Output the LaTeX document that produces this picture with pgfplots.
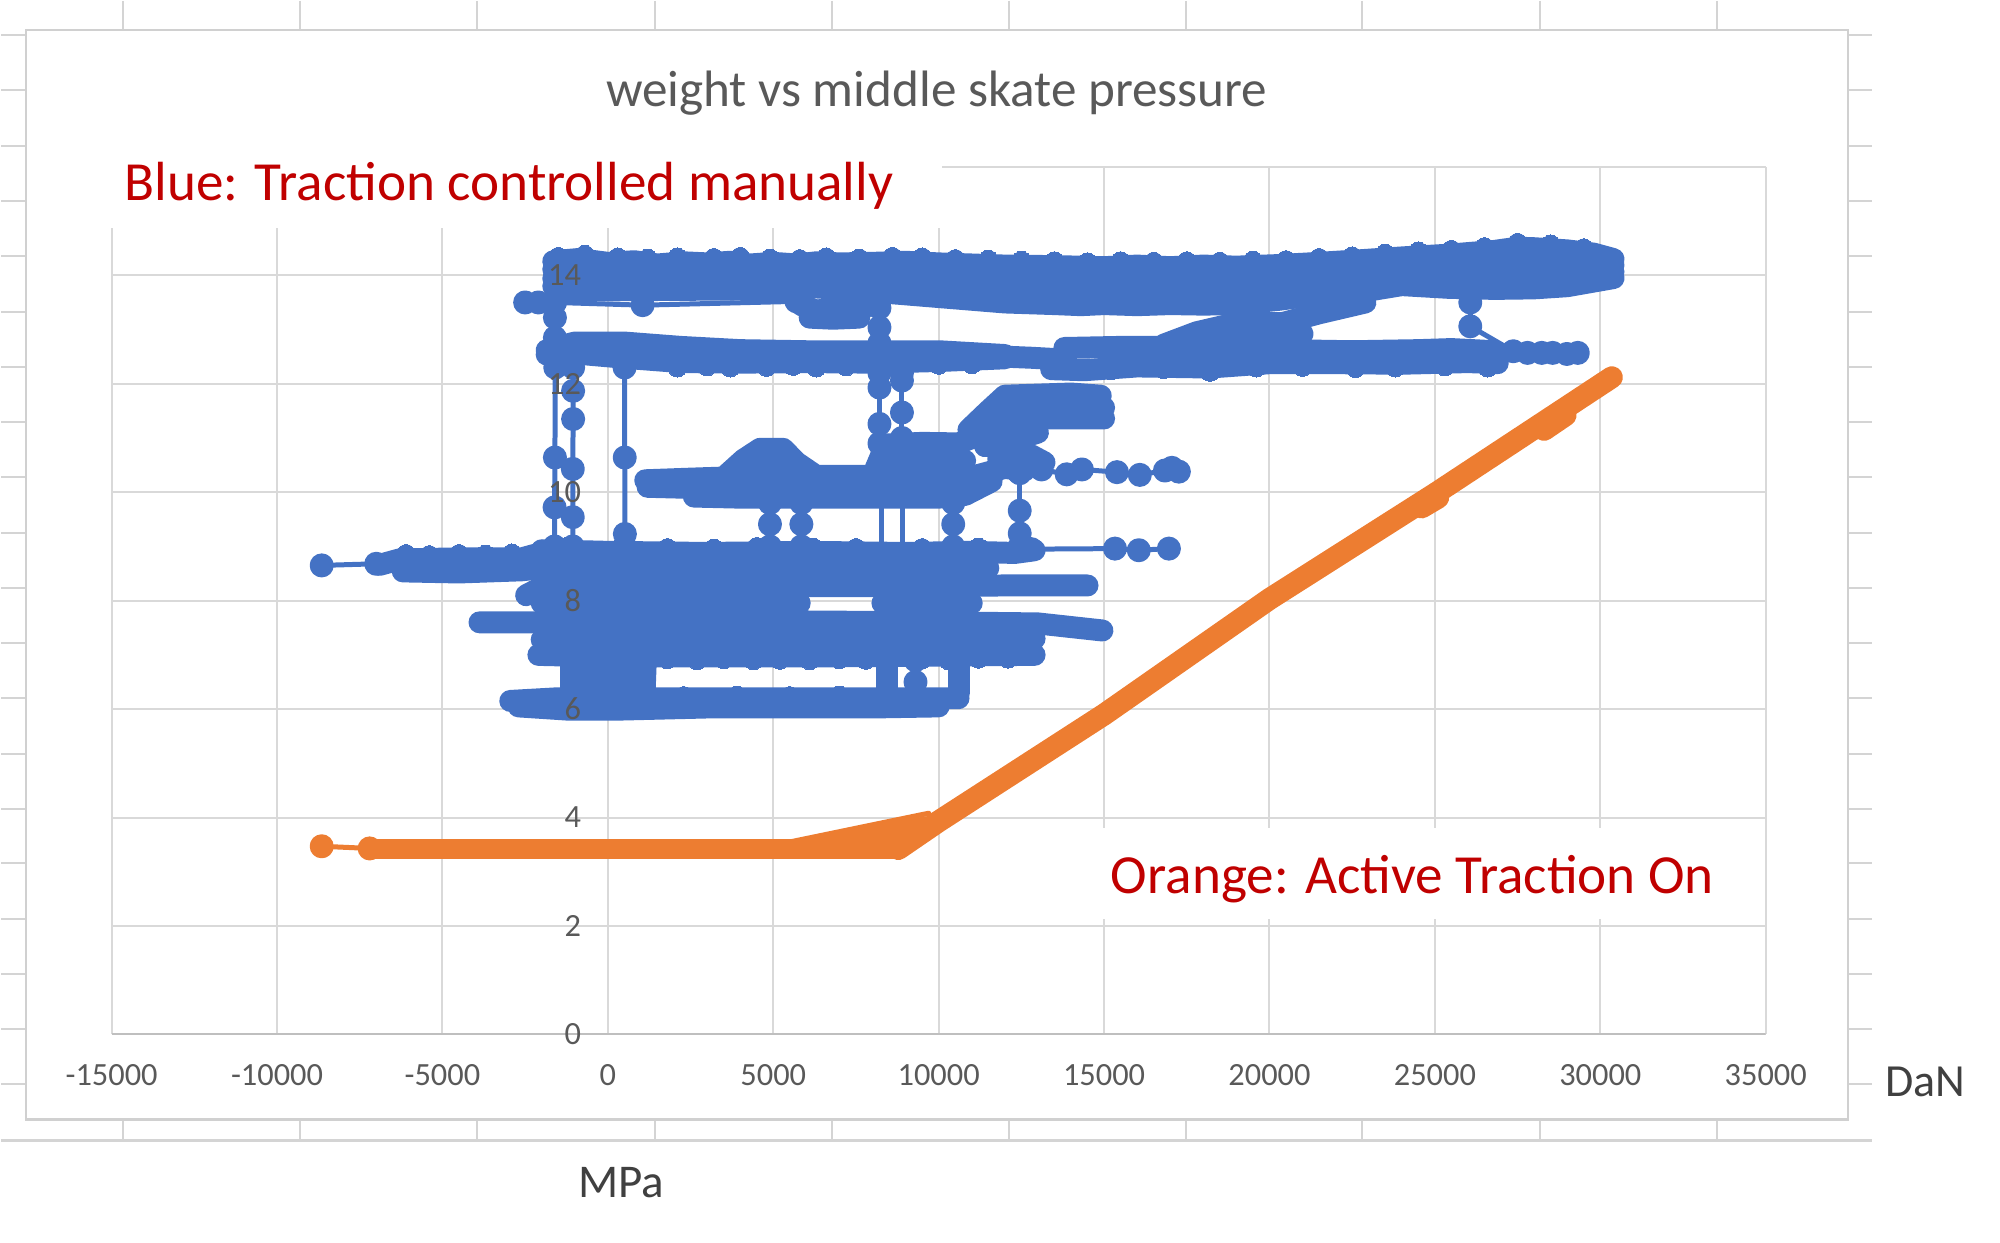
\documentclass[border=0pt]{standalone}
\usepackage{pgfplots}
\pgfplotsset{compat=1.18}
\usepackage{fontspec}
\setmainfont{Carlito}
\definecolor{xlblue}{HTML}{4472C4}
\definecolor{xlorange}{HTML}{ED7D31}
\definecolor{xlred}{HTML}{C00000}
\definecolor{xlgrid}{HTML}{D9D9D9}
\definecolor{xlaxis}{HTML}{BFBFBF}
\definecolor{xltext}{HTML}{595959}
\definecolor{xldark}{HTML}{404040}
\definecolor{sheet}{HTML}{D4D4D4}
\definecolor{chartborder}{HTML}{D0D0D0}
\pgfplotsset{
  layers/labelsontop/.define layer set={axis background,axis grid,axis ticks,axis lines,pre main,main,axis tick labels,axis descriptions,axis foreground}{/pgfplots/layers/standard},
  bandb/.style={draw=xlblue, line width=11bp, line cap=round, line join=round, mark=none},
  thinb/.style={draw=xlblue, line width=2.5bp, line cap=round, line join=round, mark=*, mark size=4.75bp, mark options={fill=xlblue, draw=none}},
  thinbn/.style={draw=xlblue, line width=2.5bp, line cap=round, mark=none},
  dotsb/.style={color=xlblue, only marks, mark=*, mark size=4.75bp, mark options={fill=xlblue, draw=xlblue, line width=0pt}},
  bando/.style={draw=xlorange, line width=9.8bp, line cap=round, line join=round, mark=none},
  bandoo/.style={draw=xlorange, line width=11bp, line cap=round, line join=round, mark=none},
  thino/.style={draw=xlorange, line width=2.5bp, line cap=round, line join=round, mark=*, mark size=4.75bp, mark options={fill=xlorange, draw=none}},
  thinon/.style={draw=xlorange, line width=2.5bp, line cap=round, mark=none},
}
\begin{document}
\begin{tikzpicture}[x=0.5bp,y=-0.5bp]
\path (0,0) rectangle (2000,1242);
% spreadsheet background
\foreach \yy in {34,89,145,200,255,311,366,421,476,532,587,642,697,753,808,863,919,974,1029,1084}{
  \draw[sheet, line width=1bp] (0,\yy) -- (25,\yy);
  \draw[sheet, line width=1bp] (1848,\yy) -- (1872,\yy);
}
\foreach \xx in {122,299,476,654,831,1008,1185,1362,1540,1717}{
  \draw[sheet, line width=1bp] (\xx,0) -- (\xx,29);
  \draw[sheet, line width=1bp] (\xx,1119) -- (\xx,1140);
}
\draw[sheet, line width=1.2bp] (0,1140) -- (1872,1140);
\draw[chartborder, line width=1.3bp] (25,29) rectangle (1848,1119);

\begin{axis}[
  at={(55.25bp,-517bp)}, anchor=south west,
  scale only axis, width=827.5bp, height=434bp,
  xmin=-15000, xmax=35000, ymin=0, ymax=16,
  xtick={-15000,-10000,-5000,0,5000,10000,15000,20000,25000,30000,35000},
  xticklabels={-15000,-10000,-5000,0,5000,10000,15000,20000,25000,30000,35000},
  ytick={0,2,4,6,8,10,12,14},
  yticklabels={0,2,4,6,8,10,12,14},
  extra y ticks={16}, extra y tick labels={},
  scaled ticks=false,
  grid=major, major grid style={xlgrid, line width=1bp},
  axis line style={draw=none}, major tick length=0pt,
  tick label style={font=\fontsize{16.2bp}{19bp}\selectfont, text=xltext},
  xticklabel style={anchor=center, yshift=-20.5bp},
  yticklabel style={anchor=east, inner sep=0pt, xshift=235bp},
  set layers=labelsontop,
  clip=true,
]
\draw[xlaxis, line width=1.5bp] (axis cs:-15000,0) -- (axis cs:35000,0);

% ---------------- ORANGE: Active traction on ----------------
\addplot[thino] coordinates {(-8650,3.47) (-7200,3.43)};
\addplot[bando] coordinates {(-7200,3.42) (-3000,3.42) (2000,3.42) (6000,3.42) (8780,3.42)};
\addplot[bando] coordinates {(6600,3.5) (9300,3.82)};
\addplot[thinon] coordinates {(5500,3.55) (9300,4.03) (9700,4.08)};
\addplot[thinon] coordinates {(6000,3.56) (9600,3.98)};
\addplot[bandoo] coordinates {(8780,3.42) (10000,3.93) (15000,5.9) (20000,8.03) (25000,9.97) (30350,12.12)};
\addplot[bandoo] coordinates {(24600,9.72) (25100,9.9)};
\addplot[bandoo] coordinates {(28300,11.15) (28950,11.42)};

% ---------------- BLUE: traction controlled manually ----------------
% top band (about 14)
\addplot[bandb] coordinates {(-1650,14.26) (-900,14.3) (0,14.23) (800,14.26) (1500,14.2) (2300,14.24) (3000,14.22) (3700,14.25) (4300,14.2) (5000,14.23) (5700,14.2) (6300,14.24) (7000,14.22) (8000,14.23) (9000,14.25) (10000,14.22) (11000,14.2) (12000,14.18) (13500,14.17) (15000,14.15) (16000,14.18) (17000,14.15) (18000,14.18) (19000,14.16) (20300,14.19) (21500,14.23) (22800,14.28) (24000,14.33) (25400,14.38) (26800,14.45) (27500,14.51) (28000,14.5) (29000,14.46) (29800,14.4) (30400,14.3)};
\addplot[dotsb] coordinates {(-1500,14.34) (-700,14.38) (300,14.33) (1200,14.31) (2100,14.33) (3200,14.32) (4000,14.34) (4900,14.31) (5800,14.3) (6600,14.33) (7600,14.31) (8600,14.34) (9500,14.33) (10500,14.3) (11500,14.29) (12500,14.27) (13500,14.26) (14500,14.24) (15500,14.26) (16500,14.25) (17500,14.26) (18500,14.25) (19500,14.27) (20500,14.28) (21500,14.32) (22500,14.35) (23500,14.4) (24500,14.44) (25500,14.47) (26500,14.52) (27500,14.6) (28500,14.57) (29500,14.5)};
\addplot[bandb] coordinates {(-1650,14.11) (0,14.09) (1500,14.08) (3000,14.09) (4300,14.08) (5700,14.08) (7000,14.07) (8000,14.06) (9000,14.05) (10000,14.02) (11000,13.99) (12000,13.96) (13500,13.94) (15000,13.93) (17000,13.93) (19000,13.94) (20300,13.98) (21500,14.04) (22800,14.09) (24000,14.16) (25400,14.19) (26800,14.22) (28000,14.26) (29000,14.25) (30400,14.19)};
\addplot[bandb] coordinates {(-1650,13.94) (0,13.93) (1500,13.94) (3000,13.93) (4300,13.93) (5700,13.93) (7000,13.9) (8000,13.87) (9000,13.84) (10000,13.8) (11000,13.76) (12000,13.72) (13500,13.69) (15000,13.69) (17000,13.69) (19000,13.69) (20300,13.75) (21500,13.83) (22800,13.88) (24000,13.98) (25400,13.97) (26800,13.97) (28000,14.0) (29000,14.01) (30400,14.06)};
\addplot[bandb] coordinates {(-1650,13.8) (-800,13.78) (0,13.8) (1000,13.82) (1500,13.81) (2200,13.79) (3000,13.8) (4300,13.79) (5000,13.81) (5700,13.8) (7000,13.75) (8000,13.7) (9000,13.65) (10000,13.6) (11000,13.55) (12000,13.5) (13500,13.47) (14300,13.45) (15000,13.47) (16000,13.45) (17000,13.47) (18000,13.46) (19000,13.47) (20300,13.55) (21500,13.65) (22800,13.7) (24000,13.82) (25400,13.77) (26800,13.75) (28000,13.76) (29000,13.8) (30400,13.95)};
\addplot[bandb] coordinates {(5850,13.45) (6300,13.35) (7000,13.4) (7800,13.42)};
\addplot[bandb] coordinates {(6100,13.22) (6800,13.2) (7600,13.22)};
\addplot[thinb] coordinates {(-2500,13.5) (-2100,13.5) (-1600,13.5) (1050,13.45) (5700,13.52)};
\addplot[thinbn] coordinates {(-1700,13.56) (5800,13.59)};
\addplot[thinb] coordinates {(-1600,13.5) (-1600,13.22) (-1600,12.85)};
\addplot[thinb] coordinates {(8210,13.4) (8210,13.04) (8210,12.75)};
% second band (about 12.5)
\addplot[bandb] coordinates {(-1850,12.62) (-1000,12.76) (500,12.76) (2200,12.68) (4000,12.62) (6000,12.6) (8000,12.6) (10000,12.6) (12000,12.53)};
\addplot[bandb] coordinates {(-1850,12.54) (-1000,12.56) (500,12.48) (2200,12.4) (4000,12.39) (6000,12.4) (8000,12.39) (10000,12.42) (12000,12.47)};
\addplot[dotsb] coordinates {(2100,12.3) (3000,12.32) (3700,12.3) (4800,12.31) (5600,12.33) (6300,12.3) (7200,12.32) (9000,12.33) (10000,12.35) (11000,12.36)};
\addplot[bandb] coordinates {(12000,12.5) (12800,12.48) (13700,12.45)};
\addplot[bandb] coordinates {(13800,12.66) (15500,12.68) (17000,12.68) (18500,12.7) (20500,12.62) (22500,12.6) (24500,12.62) (25500,12.64) (26800,12.6)};
\addplot[bandb] coordinates {(13400,12.27) (14400,12.25) (16000,12.32) (18200,12.3) (20000,12.38) (22000,12.38) (24000,12.37) (26000,12.4) (26900,12.38)};
\addplot[dotsb] coordinates {(15200,12.25) (16800,12.27) (18200,12.22) (19600,12.3) (21000,12.31) (22600,12.29) (23800,12.3) (25300,12.32) (26600,12.3)};
\addplot[bandb] coordinates {(16800,12.72) (17800,12.95) (19000,13.12) (20400,13.12) (21500,13.3) (22900,13.5)};
\addplot[bandb] coordinates {(18500,12.88) (20500,12.88) (21000,12.92)};
\addplot[thinb] coordinates {(26070,13.5) (26070,13.06) (27370,12.6) (27800,12.57) (28230,12.57) (28560,12.57) (28990,12.55) (29320,12.57)};
% connectors down from the 12.5 band
\addplot[thinb] coordinates {(-1590,12.3) (-1600,10.64) (-1610,9.72) (-1610,9.0)};
\addplot[thinb] coordinates {(-1050,12.3) (-1050,11.87) (-1050,11.35) (-1060,10.43) (-1060,9.54) (-1060,9.0)};
\addplot[thinb] coordinates {(505,12.3) (510,10.64) (515,9.23) (515,9.0)};
\addplot[thinb] coordinates {(8210,12.2) (8210,11.93) (8210,11.26) (8210,10.9)};
\addplot[thinb] coordinates {(8890,12.2) (8890,12.06) (8890,11.47) (8890,11.0)};
% blob about 11.5
\addplot[bandb] coordinates {(10900,11.15) (11500,11.5) (12000,11.78) (13000,11.8) (14000,11.82) (14900,11.78)};
\addplot[bandb] coordinates {(11200,11.0) (12000,11.55) (13500,11.58) (15000,11.56)};
\addplot[bandb] coordinates {(11800,11.2) (13200,11.36) (15000,11.36)};
\addplot[bandb] coordinates {(11400,10.85) (12200,10.95) (13000,11.1)};
\addplot[bandb] coordinates {(11800,10.62) (12800,10.68) (13200,10.55)};
% band about 10.2
\addplot[bandb] coordinates {(1130,10.22) (2500,10.25) (3500,10.27) (4100,10.6) (4600,10.8) (5300,10.8) (5700,10.55) (6300,10.3) (8000,10.3) (8400,10.88) (9500,10.91) (10600,10.9) (11000,11.0)};
\addplot[bandb] coordinates {(4000,10.4) (5600,10.45)};
\addplot[bandb] coordinates {(4300,10.62) (5400,10.62)};
\addplot[bandb] coordinates {(1200,10.1) (2500,10.08) (4000,10.1) (6000,10.1) (8000,10.1) (8600,10.55) (10800,10.58)};
\addplot[bandb] coordinates {(2600,9.92) (4000,9.9) (6000,9.9) (8000,9.9) (10000,9.9) (10800,9.95) (11600,10.2)};
\addplot[bandb] coordinates {(8400,10.26) (10800,10.25) (12000,10.45) (12600,10.4)};
\addplot[thinb] coordinates {(12400,10.38) (13110,10.42) (13870,10.33) (14330,10.42) (15390,10.37) (16080,10.32) (16840,10.4) (17050,10.45) (17260,10.38)};
% connectors between 10 band and 9 band
\addplot[thinbn] coordinates {(8280,9.8) (8280,9.0)};
\addplot[thinbn] coordinates {(8900,9.8) (8900,9.0)};
\addplot[thinb] coordinates {(4900,9.8) (4900,9.41) (4900,9.0)};
\addplot[thinb] coordinates {(5850,9.8) (5850,9.41) (5850,9.0)};
\addplot[thinb] coordinates {(10440,9.8) (10440,9.41) (10440,9.0)};
\addplot[thinb] coordinates {(12450,10.35) (12450,9.66) (12450,9.24) (12450,9.0)};
% main mass 6 to 9
\addplot[thinb] coordinates {(-8650,8.65) (-7000,8.68)};
\addplot[bandb] coordinates {(-6900,8.66) (-6300,8.76) (-4500,8.78) (-2600,8.78) (-2000,8.88)};
\addplot[bandb] coordinates {(-6200,8.54) (-4500,8.52) (-2600,8.56) (-2000,8.6)};
\addplot[dotsb] coordinates {(-6100,8.86) (-5400,8.84) (-4500,8.86) (-3700,8.85) (-2900,8.87)};
\addplot[bandb] coordinates {(-2000,8.93) (0,8.9) (3000,8.88) (6000,8.9) (9000,8.88) (11000,8.9) (12300,8.88) (12900,8.93)};
\addplot[dotsb] coordinates {(-1200,9.0) (400,8.98) (1800,8.97) (3200,8.96) (4500,8.99) (6200,8.98) (7500,8.97) (9500,8.97) (11200,8.98)};
\addplot[thinb] coordinates {(12800,8.95) (15330,8.96) (16050,8.93) (16960,8.96)};
\addplot[bandb] coordinates {(-2000,8.6) (3000,8.62) (8000,8.6) (11500,8.6)};
\addplot[bandb] coordinates {(-2470,8.1) (-2000,8.25) (3000,8.27) (8000,8.27) (12000,8.28) (14500,8.28)};
\addplot[bandb] coordinates {(-2000,7.95) (5800,7.95)};
\addplot[bandb] coordinates {(8300,7.95) (11000,7.95)};
\addplot[bandb] coordinates {(-3880,7.6) (-2000,7.6) (5000,7.62) (10000,7.6) (13000,7.58) (14950,7.45)};
\addplot[bandb] coordinates {(-2000,7.28) (6000,7.28) (12900,7.3)};
\addplot[bandb] coordinates {(-2100,7.0) (0,6.97) (6000,6.97) (12900,7.0)};
\addplot[dotsb] coordinates {(1800,6.92) (2700,6.9) (3500,6.92) (4400,6.9) (5200,6.91) (6100,6.9) (7000,6.92) (7800,6.91) (9500,6.92) (10300,6.9) (11200,6.93) (12100,6.93)};
\addplot[bandb] coordinates {(-2950,6.15) (-1500,6.2) (3000,6.2) (8000,6.2) (10600,6.2)};
\addplot[bandb] coordinates {(-2700,6.05) (-1200,5.99) (300,5.99) (3000,6.03) (8000,6.03) (10000,6.05)};
\addplot[dotsb] coordinates {(2300,6.24) (3900,6.25) (5500,6.24) (7000,6.25)};
\addplot[bandb] coordinates {(-1100,6.1) (-1100,6.95)};
\addplot[bandb] coordinates {(-550,6.1) (-550,6.95)};
\addplot[bandb] coordinates {(0,6.1) (0,6.95)};
\addplot[bandb] coordinates {(550,6.1) (550,6.95)};
\addplot[bandb] coordinates {(1100,6.15) (1150,6.95)};
\addplot[bandb] coordinates {(8450,6.3) (8450,6.85)};
\addplot[bandb] coordinates {(10600,6.3) (10600,6.85)};
\addplot[thinb] coordinates {(9300,6.9) (9300,6.5) (9300,6.2)};
\end{axis}

% white label boxes and texts
\fill[white] (95,120) rectangle (941,227);
\fill[white] (1095,827) rectangle (1745,919);
\node[anchor=center, inner sep=0pt, text=xltext, font=\fontsize{25.6bp}{30bp}\selectfont] at (936,92) {weight vs middle skate pressure};
\node[anchor=base west, inner sep=0pt, text=xlred, font=\fontsize{27.6bp}{32bp}\selectfont] at (123,200) {Blue: Traction controlled manually};
\node[anchor=base west, inner sep=0pt, text=xlred, font=\fontsize{27.6bp}{32bp}\selectfont] at (1110,893) {Orange: Active Traction On};
\node[anchor=base west, inner sep=0pt, text=xldark, font=\fontsize{23bp}{28bp}\selectfont] at (1885,1096) {DaN};
\node[anchor=base west, inner sep=0pt, text=xldark, font=\fontsize{23.5bp}{28bp}\selectfont] at (577,1197) {MPa};
\end{tikzpicture}
\end{document}
